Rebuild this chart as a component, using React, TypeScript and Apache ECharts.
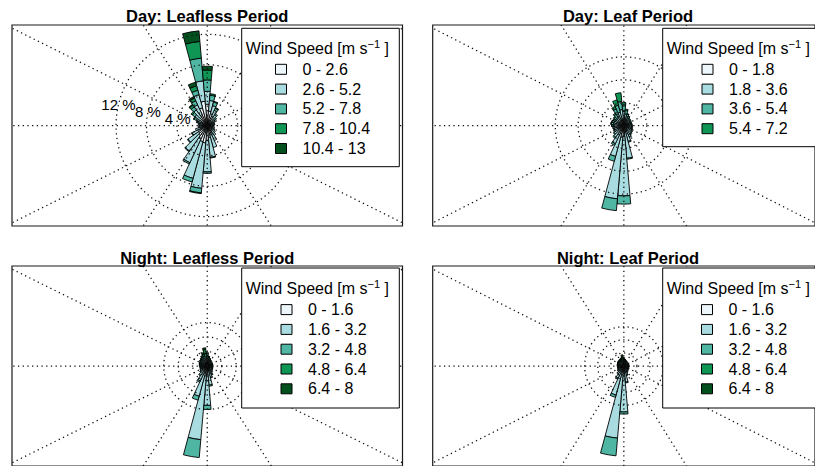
import { useEffect, useRef } from "react";
import * as echarts from "echarts";

// Wind direction sectors (degrees clockwise from north), 10° wide.
const DIRECTIONS = [
  0, 10, 20, 30, 40, 50, 60, 70, 80, 90, 100, 110, 120, 130, 140, 150, 160, 170,
  180, 190, 200, 210, 220, 230, 240, 250, 260, 270, 280, 290, 300, 310, 320, 330, 340, 350,
];

// Bearings of the dotted guide spokes.
const SPOKE_BEARINGS = [0, 32.5, 63.5, 90, 116.5, 147.5, 180, 212.5, 243.5, 270, 296.5, 327.5];

const SPEED_COLORS = ["#edf6fa", "#a8dce0", "#4fb6a3", "#0f9655", "#03501f"];
const FONT = '"Liberation Sans", Arial, Helvetica, sans-serif';

// ---- Day: Leafless Period (frequency %, per direction) ----
const DAY_LEAFLESS_CLASSES = ["0 - 2.6", "2.6 - 5.2", "5.2 - 7.8", "7.8 - 10.4", "10.4 - 13"];
const DAY_LEAFLESS_RINGS = [4, 8, 12];
const DAY_LEAFLESS_S1 = [2.8, 1.9, 1.6, 1.3, 1.0, 0.8, 0.7, 0.6, 0.6, 0.6, 0.6, 0.6, 0.7, 0.8, 0.9, 1.1, 1.3, 1.6, 2.0, 2.3, 2.2, 1.9, 1.6, 1.4, 1.1, 0.9, 0.7, 0.6, 0.6, 0.7, 0.9, 1.1, 1.3, 1.6, 2.4, 3.2];
const DAY_LEAFLESS_S2 = [1.7, 1.4, 1.1, 0.9, 0.7, 0.5, 0.4, 0.3, 0.3, 0.3, 0.3, 0.4, 0.4, 0.5, 0.7, 1.1, 1.7, 2.6, 4.1, 6.0, 5.0, 3.5, 2.5, 1.7, 1.1, 0.7, 0.5, 0.4, 0.4, 0.5, 0.7, 0.9, 1.2, 1.4, 1.8, 2.7];
const DAY_LEAFLESS_S3 = [1.5, 0.7, 0.5, 0.3, 0.2, 0.2, 0.1, 0.1, 0.1, 0, 0, 0, 0, 0, 0, 0, 0, 0.1, 0.2, 0.6, 0.5, 0.2, 0.1, 0.1, 0.1, 0, 0, 0.1, 0.2, 0.2, 0.3, 0.4, 0.5, 0.6, 0.6, 3.0];
const DAY_LEAFLESS_S4 = [1.3, 0.2, 0.1, 0.1, 0, 0, 0, 0, 0, 0, 0, 0, 0, 0, 0, 0, 0, 0, 0, 0.1, 0, 0, 0, 0, 0, 0, 0, 0, 0, 0.1, 0.1, 0.2, 0.3, 0.4, 0.6, 2.2];
const DAY_LEAFLESS_S5 = [0.5, 0, 0, 0, 0, 0, 0, 0, 0, 0, 0, 0, 0, 0, 0, 0, 0, 0, 0, 0, 0, 0, 0, 0, 0, 0, 0, 0, 0, 0, 0, 0, 0.1, 0.2, 0.5, 1.4];

// ---- Day: Leaf Period ----
const DAY_LEAF_CLASSES = ["0 - 1.8", "1.8 - 3.6", "3.6 - 5.4", "5.4 - 7.2"];
const DAY_LEAF_RINGS = [5, 10, 15];
const DAY_LEAF_S1 = [1.5, 1.2, 1.0, 0.9, 0.9, 0.9, 0.9, 0.9, 0.9, 0.9, 0.9, 0.9, 0.9, 1.0, 1.0, 1.1, 1.2, 1.6, 2.4, 2.6, 1.8, 1.3, 1.1, 1.0, 1.0, 1.0, 1.0, 1.0, 1.0, 1.0, 1.0, 1.0, 1.1, 1.3, 1.4, 1.5];
const DAY_LEAF_S2 = [1.6, 1.3, 1.0, 0.9, 0.8, 0.8, 0.7, 0.7, 0.7, 0.8, 0.8, 0.9, 1.0, 1.1, 1.3, 1.6, 2.4, 5.6, 13.0, 13.5, 5.2, 3.1, 2.0, 1.6, 1.3, 1.2, 1.2, 1.2, 1.3, 1.2, 1.0, 1.0, 1.1, 1.5, 1.6, 2.0];
const DAY_LEAF_S3 = [1.4, 0.8, 0.6, 0.4, 0.3, 0.2, 0.2, 0.2, 0.2, 0.2, 0.2, 0.2, 0.2, 0.2, 0.2, 0.2, 0.2, 0.2, 1.8, 2.6, 1.1, 0.4, 0.3, 0.2, 0.2, 0.2, 0.3, 0.4, 0.5, 0.5, 0.5, 0.6, 0.8, 1.2, 1.6, 1.8];
const DAY_LEAF_S4 = [0.5, 0.3, 0.1, 0.1, 0, 0, 0, 0, 0, 0, 0, 0, 0, 0, 0, 0, 0, 0, 0, 0, 0, 0, 0, 0, 0, 0, 0, 0.1, 0.1, 0.1, 0.1, 0.2, 0.3, 0.6, 1.2, 1.9];

// ---- Night: Leafless Period ----
const NIGHT_CLASSES = ["0 - 1.6", "1.6 - 3.2", "3.2 - 4.8", "4.8 - 6.4", "6.4 - 8"];
const NIGHT_LEAFLESS_RINGS = [5, 10, 15];
const NIGHT_LEAFLESS_S1 = [1.6, 1.4, 1.3, 1.2, 1.1, 1.1, 1.1, 1.1, 1.1, 1.1, 1.1, 1.1, 1.1, 1.2, 1.2, 1.3, 1.5, 2.0, 3.0, 3.5, 2.6, 1.8, 1.5, 1.4, 1.3, 1.3, 1.3, 1.3, 1.3, 1.3, 1.3, 1.3, 1.3, 1.4, 1.5, 2.0];
const NIGHT_LEAFLESS_S2 = [1.2, 1.0, 0.9, 0.8, 0.8, 0.7, 0.7, 0.7, 0.7, 0.7, 0.7, 0.7, 0.8, 0.9, 1.2, 1.7, 2.6, 4.6, 10.6, 22.0, 8.2, 3.9, 2.4, 1.6, 1.3, 1.1, 1.1, 1.1, 1.1, 1.1, 1.1, 1.2, 1.2, 1.3, 1.3, 1.3];
const NIGHT_LEAFLESS_S3 = [0.8, 0.6, 0.4, 0.3, 0.3, 0.3, 0.2, 0.2, 0.2, 0.2, 0.2, 0.2, 0.2, 0.2, 0.2, 0.2, 0.2, 0.4, 1.4, 6.2, 1.4, 0.5, 0.3, 0.2, 0.2, 0.2, 0.2, 0.3, 0.3, 0.4, 0.4, 0.4, 0.5, 0.6, 0.8, 1.0];
const NIGHT_LEAFLESS_S4 = [0.7, 0.3, 0.2, 0.1, 0, 0, 0, 0, 0, 0, 0, 0, 0, 0, 0, 0, 0, 0, 0, 0, 0, 0, 0, 0, 0, 0, 0, 0, 0.1, 0.1, 0.2, 0.2, 0.3, 0.4, 0.7, 1.4];
const NIGHT_LEAFLESS_S5 = [0.3, 0.1, 0, 0, 0, 0, 0, 0, 0, 0, 0, 0, 0, 0, 0, 0, 0, 0, 0, 0, 0, 0, 0, 0, 0, 0, 0, 0, 0, 0, 0, 0.1, 0.2, 0.3, 0.5, 0.6];

// ---- Night: Leaf Period ----
const NIGHT_LEAF_RINGS = [5, 10, 15];
const NIGHT_LEAF_S1 = [1.3, 1.2, 1.1, 1.1, 1.1, 1.1, 1.1, 1.1, 1.1, 1.1, 1.1, 1.1, 1.1, 1.1, 1.1, 1.2, 1.4, 1.9, 3.0, 3.5, 2.6, 1.7, 1.4, 1.3, 1.3, 1.2, 1.2, 1.2, 1.2, 1.2, 1.2, 1.2, 1.2, 1.2, 1.2, 1.2];
const NIGHT_LEAF_S2 = [0.8, 0.7, 0.7, 0.6, 0.7, 0.7, 0.7, 0.7, 0.7, 0.7, 0.7, 0.7, 0.8, 0.9, 1.1, 1.4, 2.2, 4.3, 14.6, 24.2, 8.9, 3.4, 2.1, 1.5, 1.2, 1.1, 1.1, 1.1, 1.1, 1.1, 1.1, 1.1, 1.1, 1.1, 1.0, 0.6];
const NIGHT_LEAF_S3 = [0.5, 0.4, 0.3, 0.3, 0.2, 0.2, 0.2, 0.2, 0.2, 0.2, 0.2, 0.2, 0.2, 0.2, 0.2, 0.2, 0.2, 0.3, 0.8, 6.8, 0.9, 0.4, 0.3, 0.2, 0.2, 0.2, 0.2, 0.2, 0.2, 0.2, 0.2, 0.3, 0.3, 0.3, 0.4, 0.4];
const NIGHT_LEAF_S4 = [0.3, 0.2, 0.2, 0.1, 0, 0, 0, 0, 0, 0, 0, 0, 0, 0, 0, 0, 0, 0, 0, 0, 0, 0, 0, 0, 0, 0, 0, 0, 0.1, 0.1, 0.1, 0.1, 0.2, 0.2, 0.3, 1.0];
const NIGHT_LEAF_S5 = [0.3, 0.1, 0, 0, 0, 0, 0, 0, 0, 0, 0, 0, 0, 0, 0, 0, 0, 0, 0, 0, 0, 0, 0, 0, 0, 0, 0, 0, 0, 0, 0.1, 0.1, 0.1, 0.2, 0.4, 1.1];

type Panel = {
  title: string;
  titleX: number;
  titleY: number;
  classes: string[];
  values: number[][];
  rings: number[];
  ringLabels: boolean;
  pxPerPct: number;
  grid: { left: number; top: number; width: number; height: number };
  box: { x: number; y: number; w: number; h: number };
  legendLeft: number;
  legendTop: number;
};

const PANELS: Panel[] = [
  {
    title: "Day: Leafless Period",
    titleX: 207.25,
    titleY: 16,
    classes: DAY_LEAFLESS_CLASSES,
    values: [DAY_LEAFLESS_S1, DAY_LEAFLESS_S2, DAY_LEAFLESS_S3, DAY_LEAFLESS_S4, DAY_LEAFLESS_S5],
    rings: DAY_LEAFLESS_RINGS,
    ringLabels: true,
    pxPerPct: 7.6,
    grid: { left: 12, top: 25, width: 390.5, height: 201 },
    box: { x: 241.7, y: 28.3, w: 157.6, h: 138.4 },
    legendLeft: 275,
    legendTop: 59.4,
  },
  {
    title: "Day: Leaf Period",
    titleX: 628,
    titleY: 16,
    classes: DAY_LEAF_CLASSES,
    values: [DAY_LEAF_S1, DAY_LEAF_S2, DAY_LEAF_S3, DAY_LEAF_S4],
    rings: DAY_LEAF_RINGS,
    ringLabels: false,
    pxPerPct: 4.67,
    grid: { left: 432.7, top: 25, width: 390.5, height: 201 },
    box: { x: 662.7, y: 28.3, w: 157.6, h: 118.4 },
    legendLeft: 701.5,
    legendTop: 59.4,
  },
  {
    title: "Night: Leafless Period",
    titleX: 207.25,
    titleY: 257.5,
    classes: NIGHT_CLASSES,
    values: [NIGHT_LEAFLESS_S1, NIGHT_LEAFLESS_S2, NIGHT_LEAFLESS_S3, NIGHT_LEAFLESS_S4, NIGHT_LEAFLESS_S5],
    rings: NIGHT_LEAFLESS_RINGS,
    ringLabels: false,
    pxPerPct: 2.9,
    grid: { left: 12, top: 266, width: 390.5, height: 201 },
    box: { x: 241.7, y: 268, w: 157.6, h: 140 },
    legendLeft: 280.5,
    legendTop: 299.7,
  },
  {
    title: "Night: Leaf Period",
    titleX: 628,
    titleY: 257.5,
    classes: NIGHT_CLASSES,
    values: [NIGHT_LEAF_S1, NIGHT_LEAF_S2, NIGHT_LEAF_S3, NIGHT_LEAF_S4, NIGHT_LEAF_S5],
    rings: NIGHT_LEAF_RINGS,
    ringLabels: false,
    pxPerPct: 2.67,
    grid: { left: 432.7, top: 266, width: 390.5, height: 201 },
    box: { x: 662.7, y: 268, w: 157.6, h: 140 },
    legendLeft: 701,
    legendTop: 299.7,
  },
];

const DEG = Math.PI / 180;
const GUIDE_STYLE = { stroke: "#111", fill: "none", lineWidth: 1.25, lineDash: [1.3, 3.4] };
const LABEL_BEARING = 283;

// One stacked wedge: [bearing, inner %, outer %]
function sectorItem(_params: any, api: any) {
  const bearing = api.value(0);
  const lo = api.value(1);
  const hi = api.value(2);
  if (!(hi > lo)) return null;
  const c = api.coord([0, 0]);
  const r0 = api.size([lo, 0])[0];
  const r = api.size([hi, 0])[0];
  return {
    type: "sector",
    shape: {
      cx: c[0],
      cy: c[1],
      r0,
      r,
      startAngle: (bearing - 5 - 90) * DEG,
      endAngle: (bearing + 5 - 90) * DEG,
      clockwise: true,
    },
    style: { fill: api.visual("color"), stroke: "#000", lineWidth: 0.9 },
  };
}

function spokeItem(_params: any, api: any) {
  const b = api.value(0) * DEG;
  const far = api.value(1);
  const c = api.coord([0, 0]);
  const e = api.coord([far * Math.sin(b), far * Math.cos(b)]);
  return { type: "line", shape: { x1: c[0], y1: c[1], x2: e[0], y2: e[1] }, style: GUIDE_STYLE };
}

function ringItem(_params: any, api: any) {
  const c = api.coord([0, 0]);
  const r = api.size([api.value(0), 0])[0];
  return { type: "circle", shape: { cx: c[0], cy: c[1], r }, style: GUIDE_STYLE };
}

function ringLabelItem(_params: any, api: any) {
  const v = api.value(0);
  const b = LABEL_BEARING * DEG;
  const p = api.coord([v * Math.sin(b), v * Math.cos(b)]);
  return {
    type: "text",
    x: p[0],
    y: p[1],
    style: {
      text: `${v} %`,
      fill: "#000",
      font: `15px ${FONT}`,
      align: "center",
      verticalAlign: "middle",
    },
  };
}

function buildOption() {
  const series: any[] = [];
  const graphics: any[] = [];

  PANELS.forEach((p, i) => {
    const axisRef = { xAxisIndex: i, yAxisIndex: i };
    p.classes.forEach((name, k) => {
      const data = DIRECTIONS.map((d, j) => {
        let lo = 0;
        for (let m = 0; m < k; m++) lo += p.values[m][j];
        return [d, lo, lo + p.values[k][j]];
      });
      series.push({
        type: "custom",
        name,
        ...axisRef,
        clip: true,
        silent: true,
        z: 2,
        itemStyle: { color: SPEED_COLORS[k] },
        renderItem: sectorItem,
        data,
      });
    });
    series.push({
      type: "custom",
      ...axisRef,
      clip: true,
      silent: true,
      z: 3,
      renderItem: spokeItem,
      data: SPOKE_BEARINGS.map((b) => [b, 400]),
    });
    series.push({
      type: "custom",
      ...axisRef,
      clip: true,
      silent: true,
      z: 3,
      renderItem: ringItem,
      data: p.rings.map((r) => [r, 0]),
    });
    if (p.ringLabels) {
      series.push({
        type: "custom",
        ...axisRef,
        clip: true,
        silent: true,
        z: 4,
        renderItem: ringLabelItem,
        data: p.rings.map((r) => [r, 0]),
      });
    }

    graphics.push({
      type: "text",
      x: p.titleX,
      y: p.titleY,
      z: 20,
      silent: true,
      style: {
        text: p.title,
        fill: "#000",
        font: `bold 16.5px ${FONT}`,
        align: "center",
        verticalAlign: "middle",
      },
    });
    graphics.push({
      type: "rect",
      z: 9,
      silent: true,
      shape: { x: p.box.x, y: p.box.y, width: p.box.w, height: p.box.h },
      style: { fill: "#fff", stroke: "#000", lineWidth: 1 },
    });
    graphics.push({
      type: "text",
      x: p.box.x + 4,
      y: p.box.y + 20,
      z: 11,
      silent: true,
      style: {
        text: "{t|Wind Speed [m s}{s|−1}{t| ]}",
        verticalAlign: "middle",
        rich: {
          t: { fontSize: 16, fontFamily: FONT, fill: "#000", lineHeight: 20 },
          s: { fontSize: 11, fontFamily: FONT, fill: "#000", lineHeight: 12, verticalAlign: "top" },
        },
      },
    });
  });

  return {
    animation: false,
    backgroundColor: "#fff",
    grid: PANELS.map((p) => ({
      ...p.grid,
      show: true,
      borderColor: "#1a1a1a",
      borderWidth: 1.2,
      backgroundColor: "#fff",
    })),
    xAxis: PANELS.map((p, i) => ({
      type: "value",
      gridIndex: i,
      min: -p.grid.width / 2 / p.pxPerPct,
      max: p.grid.width / 2 / p.pxPerPct,
      show: false,
    })),
    yAxis: PANELS.map((p, i) => ({
      type: "value",
      gridIndex: i,
      min: -p.grid.height / 2 / p.pxPerPct,
      max: p.grid.height / 2 / p.pxPerPct,
      show: false,
    })),
    legend: PANELS.map((p) => ({
      data: p.classes,
      orient: "vertical",
      left: p.legendLeft,
      top: p.legendTop,
      padding: 0,
      itemGap: 0,
      itemWidth: 11,
      itemHeight: 10,
      icon: "rect",
      selectedMode: false,
      z: 10,
      itemStyle: { borderColor: "#000", borderWidth: 1 },
      textStyle: {
        fontSize: 16,
        fontFamily: FONT,
        color: "#000",
        lineHeight: 19.8,
        padding: [0, 0, 0, 11],
      },
    })),
    series,
    graphic: { elements: graphics },
  };
}

export default function App() {
  const ref = useRef<HTMLDivElement>(null);
  useEffect(() => {
    if (!ref.current) return;
    const chart = echarts.init(ref.current, undefined, { renderer: "svg" });
    chart.setOption(buildOption() as any);
    return () => chart.dispose();
  }, []);
  return (
    <div
      ref={ref}
      style={{ position: "fixed", left: 0, top: 0, width: 815, height: 466, background: "#fff" }}
    />
  );
}
